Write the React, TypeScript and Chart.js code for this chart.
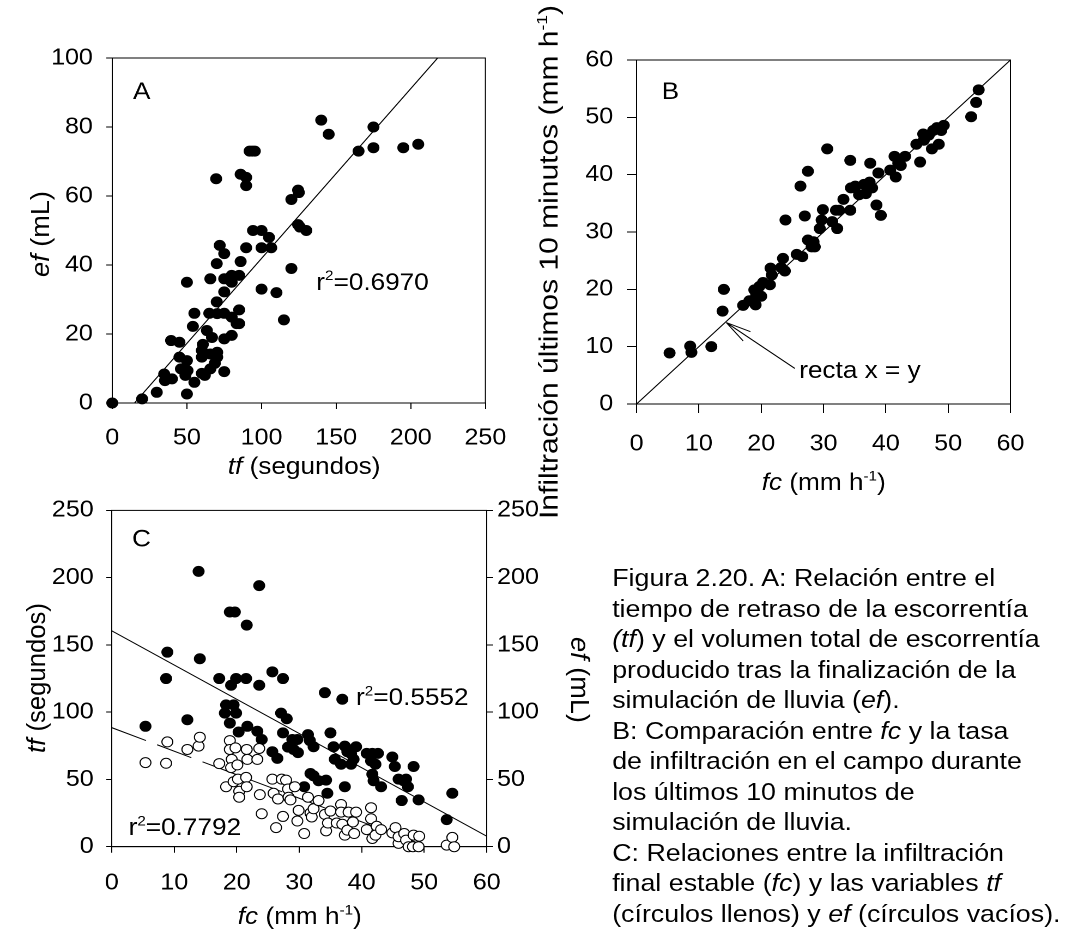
import { useEffect, useRef } from 'react';
import { Chart, registerables } from 'chart.js';

Chart.register(...registerables);

const FONT = '"Liberation Sans", Arial, Helvetica, sans-serif';
const TICK_SIZE = 23;
const TEXT_SIZE = 24;
// The whole figure is drawn slightly wider than tall.
const SX = 1.09;
const INNER_W = 1066 / SX;

// ---------- Panel A: runoff delay (tf) vs. total runoff volume (ef) ----------
const A_TF = [0, 20, 29.8, 34.8, 35.3, 40, 39.4, 45, 45, 46, 49, 50, 50.4, 50, 50, 54, 55, 55, 60, 60.7,
  60, 60, 62, 63.4, 65, 65.7, 66.8, 65.7, 65.7, 68.7, 69.6, 70, 70, 70.3, 70.3, 70.3, 72, 75, 75, 75,
  75, 75, 75, 78.3, 80, 80, 80, 80, 83.3, 85, 85, 86, 86, 85, 89.7, 89.7, 89.7, 92, 93.8, 95.5,
  94.3, 100, 100, 100, 105, 106.5, 110, 115, 120, 120, 124.5, 125, 124.5, 125.7, 130, 140, 145, 165, 175, 175,
  195, 205];
const A_EF = [0, 1.2, 3.1, 8.4, 6.5, 7, 18.1, 17.6, 13.3, 9.9, 8, 12.3, 9.4, 2.6, 35, 22.2, 26, 6, 15.2, 17,
  13.3, 8.6, 8, 21, 26, 9.9, 19, 36, 14.2, 11.5, 65, 40.4, 29.3, 25.9, 14.7, 13.3, 45.7, 43.3, 36, 32.2,
  26, 18.6, 9.1, 36, 37, 35, 19.6, 24.9, 23, 27, 37, 41, 66.3, 23, 65.4, 45, 63, 73, 73, 73,
  50, 50, 45, 33, 48, 45, 32, 24.1, 59, 39, 61.7, 61, 51.7, 51, 50, 82, 77.9, 73, 80, 74,
  74, 75];
const A_FIT = { slope: 0.4924, intercept: -7.34 };
const A_R2 = '0.6970';
const A_X_RANGE = [0, 250, 50];
const A_Y_RANGE = [0, 100, 20];

// ---------- Panel B: fc vs. field infiltration over the last 10 minutes ----------
const B_FC = [5.3, 8.6, 8.8, 12.0, 13.8, 14.0, 17.1, 18.1, 19.1, 18.9, 19.2, 19.7, 20.0, 20.3, 21.4, 21.5, 21.7, 23.2, 23.5, 23.8,
  23.9, 25.7, 26.3, 26.6, 27.0, 27.5, 27.5, 28.1, 28.4, 28.6, 29.4, 29.7, 29.9, 30.6, 31.4, 32.0, 32.2, 32.5, 33.2, 34.3,
  34.3, 34.4, 35.1, 35.7, 36.5, 36.8, 37.4, 37.5, 37.8, 38.5, 38.8, 39.2, 40.7, 41.4, 41.6, 42.0, 42.4, 43.1, 44.9, 45.5,
  46.0, 46.1, 46.9, 47.4, 47.6, 48.2, 48.5, 48.9, 49.3, 53.7, 54.5, 54.9];
const B_INF = [8.9, 10.1, 9.0, 10.0, 16.2, 20.0, 17.2, 18.0, 17.3, 19.9, 19.0, 20.5, 18.8, 21.2, 20.8, 23.7, 22.5, 23.8, 25.4, 23.2,
  32.1, 26.1, 38.0, 25.7, 32.8, 40.6, 28.6, 27.4, 28.3, 27.4, 30.6, 32.1, 33.9, 44.5, 31.8, 33.8, 30.6, 33.8, 35.7, 33.8,
  42.5, 37.7, 38.0, 36.5, 38.3, 36.7, 38.7, 42.0, 37.7, 34.7, 40.3, 32.9, 40.8, 43.2, 39.6, 42.0, 41.6, 43.2, 45.3, 42.2,
  47.1, 46.0, 46.9, 44.5, 47.7, 48.2, 45.3, 47.7, 48.6, 50.1, 52.6, 54.8];
const B_RANGE = [0, 60, 10];
const B_ARROW_TAIL = { x: 25.4, y: 6.2 };
const B_ARROW_TIP = { x: 14.4, y: 14.2 };
const B_NOTE_AT = { x: 26.1, y: 4.5 };

// ---------- Panel C: fc vs. tf (filled) and ef (open) ----------
const C_TF_FC = [5.4, 8.7, 8.9, 12.1, 13.9, 14.1, 17.2, 18.9, 19.7, 19.1, 19.9, 21.5, 21.6, 23.6, 23.6, 18.3, 19.5, 18.1, 19.9, 18.9,
  20.3, 21.7, 23.3, 24.0, 25.7, 27.4, 25.7, 26.5, 27.1, 28.0, 27.4, 28.2, 28.9, 29.7, 29.1, 29.8, 30.8, 31.4, 31.7, 32.3,
  31.8, 32.3, 33.1, 34.3, 34.1, 34.5, 35.0, 35.5, 35.7, 36.7, 36.9, 37.3, 37.3, 37.7, 38.3, 38.3, 38.7, 39.1, 40.8, 41.7,
  42.6, 41.5, 42.2, 41.7, 41.9, 43.1, 44.9, 45.3, 45.9, 46.4, 46.7, 47.1, 47.4, 48.3, 49.1, 53.6, 54.5];
const C_TF = [89.5, 125, 144.6, 94.4, 204.7, 139.7, 125, 174.5, 174.5, 120, 125, 125, 164.7, 194.1, 120, 105.4, 105.4, 99.3, 99.3, 91.9,
  85.3, 89.5, 85.8, 79.7, 130, 125, 70.6, 65.7, 99.3, 95.1, 84.6, 74.0, 79.7, 79.7, 72.3, 69.9, 44.6, 83.3, 78.9, 74.3,
  54.4, 52.7, 49.0, 49.5, 114.5, 39.7, 84.6, 74.3, 65.0, 61.3, 109.6, 74.8, 44.6, 70.6, 61.3, 69.1, 65.0, 74.3, 69.4, 69.4,
  69.4, 63.7, 61.3, 53.9, 49.0, 44.6, 66.7, 59.6, 50.2, 34.3, 49.0, 50.2, 44.6, 59.6, 34.8, 20.1, 39.7];
const C_EF_FC = [5.4, 8.7, 8.9, 12.1, 13.9, 14.1, 17.2, 18.3, 18.9, 18.9, 19.2, 19.1, 19.8, 19.5, 20.1, 20.2, 20.4, 20.4, 21.5, 21.6,
  21.7, 21.6, 23.3, 23.6, 23.7, 24.0, 25.7, 25.9, 26.3, 26.6, 27.2, 27.4, 27.9, 28.2, 28.3, 28.6, 29.3, 29.7, 29.9, 30.8,
  31.4, 31.8, 32.0, 32.3, 33.1, 34.1, 34.3, 34.6, 35.0, 36.0, 36.7, 36.7, 36.9, 37.3, 37.7, 37.9, 38.6, 38.8, 39.1, 40.8,
  41.5, 41.5, 41.7, 42.4, 42.2, 43.1, 44.9, 45.4, 45.9, 45.9, 46.8, 47.1, 47.5, 48.2, 48.3, 49.1, 49.2, 53.6, 54.5, 54.8];
const C_EF = [62.5, 62.0, 77.9, 72.3, 74.8, 81.4, 61.8, 44.6, 78.9, 72.3, 64.9, 58.8, 73.5, 48.3, 60.8, 50.2, 41.2, 36.8, 51.5, 72.3,
  64.9, 44.6, 64.9, 73.0, 38.7, 24.5, 50.2, 39.7, 14.2, 35.5, 50.2, 22.5, 49.5, 42.9, 36.8, 34.8, 44.6, 19.1, 27.0, 9.8,
  36.8, 25.0, 22.1, 28.2, 34.3, 24.0, 11.8, 17.6, 26.5, 17.6, 31.4, 25.7, 16.7, 8.6, 12.3, 25.7, 18.4, 9.8, 25.7, 12.7,
  29.0, 20.8, 6.1, 15.2, 8.6, 12.7, 10.3, 14.2, 2.5, 7.4, 9.8, 4.9, 0, 0, 8.6, 0, 7.8, 1.2, 6.9, 0];
const C_TF_FIT = { slope: -2.545, intercept: 160.5, xEnd: 60 };
const C_EF_FIT = { slope: -1.75, intercept: 88.5, xEnd: 50 };
const C_TF_R2 = '0.5552';
const C_EF_R2 = '0.7792';
const C_X_RANGE = [0, 60, 10];
const C_Y_RANGE = [0, 250, 50];

type Run = { t: string; i?: boolean; sup?: boolean };

const CAPTION: Run[][] = [
  [{ t: 'Figura 2.20. A: Relación entre el' }],
  [{ t: 'tiempo de retraso de la escorrentía' }],
  [{ t: '(tf', i: true }, { t: ') y el volumen total de escorrentía' }],
  [{ t: 'producido tras la finalización de la' }],
  [{ t: 'simulación de lluvia (' }, { t: 'ef', i: true }, { t: ').' }],
  [{ t: 'B: Comparación entre ' }, { t: 'fc', i: true }, { t: ' y la tasa' }],
  [{ t: 'de infiltración en el campo durante' }],
  [{ t: 'los últimos 10 minutos de' }],
  [{ t: 'simulación de lluvia.' }],
  [{ t: 'C: Relaciones entre la infiltración' }],
  [{ t: 'final estable (' }, { t: 'fc', i: true }, { t: ') y las variables ' }, { t: 'tf', i: true }],
  [{ t: '(círculos llenos) y ' }, { t: 'ef', i: true }, { t: ' (círculos vacíos).' }],
];

// ---------- text helpers ----------
function runFont(r: Run, size: number) {
  const s = r.sup ? Math.round(size * 0.6) : size;
  return `${r.i ? 'italic ' : ''}${s}px ${FONT}`;
}
function runsWidth(ctx: CanvasRenderingContext2D, runs: Run[], size: number) {
  let w = 0;
  for (const r of runs) {
    ctx.font = runFont(r, size);
    w += ctx.measureText(r.t).width;
  }
  return w;
}
function drawRuns(ctx: CanvasRenderingContext2D, runs: Run[], x: number, y: number, size: number, align = 'left') {
  ctx.save();
  ctx.fillStyle = '#000';
  ctx.textAlign = 'left';
  ctx.textBaseline = 'alphabetic';
  let cx = align === 'center' ? x - runsWidth(ctx, runs, size) / 2 : x;
  for (const r of runs) {
    ctx.font = runFont(r, size);
    ctx.fillText(r.t, cx, r.sup ? y - size * 0.4 : y);
    cx += ctx.measureText(r.t).width;
  }
  ctx.restore();
}
function drawRotated(ctx: CanvasRenderingContext2D, runs: Run[], cx: number, cy: number, size: number, angle: number, stretch: number) {
  ctx.save();
  ctx.translate(cx, cy);
  ctx.rotate(angle);
  ctx.scale(stretch, 1);
  drawRuns(ctx, runs, 0, size * 0.36, size, 'center');
  ctx.restore();
}
function drawArrow(ctx: CanvasRenderingContext2D, x1: number, y1: number, x2: number, y2: number, head: number, spread: number) {
  ctx.save();
  ctx.strokeStyle = '#000';
  ctx.lineWidth = 1;
  ctx.beginPath();
  ctx.moveTo(x1, y1);
  ctx.lineTo(x2, y2);
  const ang = Math.atan2(y1 - y2, x1 - x2);
  for (const s of [-spread, spread]) {
    ctx.moveTo(x2, y2);
    ctx.lineTo(x2 + head * Math.cos(ang + s), y2 + head * Math.sin(ang + s));
  }
  ctx.stroke();
  ctx.restore();
}
const r2Runs = (v: string): Run[] => [{ t: 'r' }, { t: '2', sup: true }, { t: '=' + v }];
const FC_TITLE: Run[] = [{ t: 'fc', i: true }, { t: ' (mm h' }, { t: '-1', sup: true }, { t: ')' }];
const TF_TITLE: Run[] = [{ t: 'tf', i: true }, { t: ' (segundos)' }];
const EF_TITLE: Run[] = [{ t: 'ef', i: true }, { t: ' (mL)' }];
const INF_TITLE: Run[] = [{ t: 'Infiltración últimos 10 minutos (mm h' }, { t: '-1', sup: true }, { t: ')' }];

// ---------- chart helpers ----------
type Box = { left: number; top: number; width: number; height: number };
type Area = { l: number; t: number; r: number; b: number };
const AXIS_W = 100;
const AXIS_H = 60;

function padFor(box: Box, area: Area, rightAxis: boolean) {
  return {
    left: area.l - AXIS_W,
    top: area.t,
    right: box.width - area.r - (rightAxis ? AXIS_W : 0),
    bottom: box.height - area.b - AXIS_H,
  };
}

function linAxis(position: string, range: number[], tl: number, pad: number) {
  const horizontal = position === 'bottom' || position === 'top';
  return {
    type: 'linear',
    position,
    min: range[0],
    max: range[1],
    ticks: {
      stepSize: range[2],
      padding: pad,
      color: '#000',
      font: { family: FONT, size: TICK_SIZE },
      maxRotation: 0,
      autoSkip: false,
    },
    grid: { display: true, drawOnChartArea: false, drawTicks: true, tickLength: tl, color: '#000', lineWidth: 1 },
    border: { display: true, color: '#000', width: 1 },
    afterFit: (s: any) => {
      if (horizontal) s.height = AXIS_H;
      else s.width = AXIS_W;
    },
  };
}

function baseOptions(padding: any) {
  return {
    responsive: true,
    maintainAspectRatio: false,
    animation: false,
    devicePixelRatio: 2,
    events: [],
    layout: { padding },
    plugins: { legend: { display: false }, tooltip: { enabled: false } },
  };
}

const framePlugin = {
  id: 'frame',
  beforeDatasetsDraw(chart: any) {
    const { left, top, right, bottom } = chart.chartArea;
    const ctx = chart.ctx;
    ctx.save();
    ctx.strokeStyle = '#000';
    ctx.lineWidth = 1;
    ctx.strokeRect(left, top, right - left, bottom - top);
    ctx.restore();
  },
};

const DOT_R = 5;
const filledDots = {
  pointRadius: DOT_R,
  pointBackgroundColor: '#000',
  pointBorderColor: '#000',
  backgroundColor: '#000',
  borderColor: '#000',
  pointBorderWidth: 1,
  clip: false,
};
const openDots = {
  pointRadius: DOT_R,
  pointBackgroundColor: '#fff',
  pointBorderColor: '#000',
  backgroundColor: '#fff',
  borderColor: '#000',
  pointBorderWidth: 1,
  clip: false,
};
const fitLine = { showLine: true, pointRadius: 0, borderColor: '#000', borderWidth: 1, fill: false };

const pairs = (xs: number[], ys: number[]) => xs.map((x, i) => ({ x, y: ys[i] }));

// ---------- panel layouts ----------
const BOX_A: Box = { left: 0, top: 0, width: 480, height: 500 };
const AREA_A: Area = { l: 103, t: 58, r: 449, b: 403 };
const BOX_B: Box = { left: 480, top: 0, width: 498, height: 540 };
const AREA_B: Area = { l: 104, t: 60, r: 447, b: 404 };
const BOX_C: Box = { left: 0, top: 485, width: 560, height: 448 };
const AREA_C: Area = { l: 102.5, t: 24.2, r: 446.5, b: 361.7 };

function configA(): any {
  const x0 = (A_Y_RANGE[0] - A_FIT.intercept) / A_FIT.slope;
  const x1 = (A_Y_RANGE[1] - A_FIT.intercept) / A_FIT.slope;
  return {
    type: 'scatter',
    data: {
      datasets: [
        { data: pairs(A_TF, A_EF), ...filledDots, order: 1 },
        { data: [{ x: x0, y: A_Y_RANGE[0] }, { x: x1, y: A_Y_RANGE[1] }], ...fitLine, order: 2 },
      ],
    },
    options: {
      ...baseOptions(padFor(BOX_A, AREA_A, false)),
      scales: {
        x: linAxis('bottom', A_X_RANGE, 6, 15.5),
        y: linAxis('left', A_Y_RANGE, 5.5, 12.3),
      },
    },
    plugins: [
      framePlugin,
      {
        id: 'labelsA',
        afterDraw(chart: any) {
          const ctx = chart.ctx;
          const { left, top } = chart.chartArea;
          const sx = chart.scales.x;
          const sy = chart.scales.y;
          drawRuns(ctx, [{ t: 'A' }], left + 19, top + 41, TEXT_SIZE);
          drawRuns(ctx, r2Runs(A_R2), sx.getPixelForValue(136.7), sy.getPixelForValue(32.8), TEXT_SIZE);
          drawRuns(ctx, TF_TITLE, 279, 474, TEXT_SIZE, 'center');
          drawRotated(ctx, EF_TITLE, 36.3, 234, TEXT_SIZE, -Math.PI / 2, 1.13);
        },
      },
    ],
  };
}

function configB(): any {
  return {
    type: 'scatter',
    data: {
      datasets: [
        { data: pairs(B_FC, B_INF), ...filledDots, order: 1 },
        { data: [{ x: B_RANGE[0], y: B_RANGE[0] }, { x: B_RANGE[1], y: B_RANGE[1] }], ...fitLine, order: 2 },
      ],
    },
    options: {
      ...baseOptions(padFor(BOX_B, AREA_B, false)),
      scales: {
        x: linAxis('bottom', B_RANGE, 9, 17.6),
        y: linAxis('left', B_RANGE, 9, 12.4),
      },
    },
    plugins: [
      framePlugin,
      {
        id: 'labelsB',
        afterDraw(chart: any) {
          const ctx = chart.ctx;
          const { left, top } = chart.chartArea;
          const sx = chart.scales.x;
          const sy = chart.scales.y;
          drawRuns(ctx, [{ t: 'B' }], left + 23, top + 39, TEXT_SIZE);
          drawRuns(ctx, [{ t: 'recta x = y' }], sx.getPixelForValue(B_NOTE_AT.x), sy.getPixelForValue(B_NOTE_AT.y), TEXT_SIZE);
          drawArrow(
            ctx,
            sx.getPixelForValue(B_ARROW_TAIL.x), sy.getPixelForValue(B_ARROW_TAIL.y),
            sx.getPixelForValue(B_ARROW_TIP.x), sy.getPixelForValue(B_ARROW_TIP.y),
            24, 0.24,
          );
          drawRuns(ctx, FC_TITLE, 275.7, 490, TEXT_SIZE, 'center');
          drawRotated(ctx, INF_TITLE, 22.8, 262, TEXT_SIZE, -Math.PI / 2, 1.25);
        },
      },
    ],
  };
}

function configC(): any {
  const tfEnd = C_TF_FIT.intercept + C_TF_FIT.slope * C_TF_FIT.xEnd;
  const efEnd = C_EF_FIT.intercept + C_EF_FIT.slope * C_EF_FIT.xEnd;
  return {
    type: 'scatter',
    data: {
      datasets: [
        { data: pairs(C_EF_FC, C_EF), yAxisID: 'y2', ...openDots, order: 0 },
        { data: pairs(C_TF_FC, C_TF), yAxisID: 'y', ...filledDots, order: 1 },
        {
          data: [{ x: 0, y: C_TF_FIT.intercept }, { x: C_TF_FIT.xEnd, y: tfEnd }],
          yAxisID: 'y', ...fitLine, order: 2,
        },
        {
          data: [{ x: 0, y: C_EF_FIT.intercept }, { x: C_EF_FIT.xEnd, y: efEnd }],
          yAxisID: 'y2', ...fitLine, borderDash: [34, 11], order: 2,
        },
      ],
    },
    options: {
      ...baseOptions(padFor(BOX_C, AREA_C, true)),
      scales: {
        x: linAxis('bottom', C_X_RANGE, 6, 16.6),
        y: linAxis('left', C_Y_RANGE, 5, 11.6),
        y2: linAxis('right', C_Y_RANGE, 6, 3.5),
      },
    },
    plugins: [
      framePlugin,
      {
        id: 'labelsC',
        afterDraw(chart: any) {
          const ctx = chart.ctx;
          const { left, top } = chart.chartArea;
          const sx = chart.scales.x;
          const sy = chart.scales.y;
          drawRuns(ctx, [{ t: 'C' }], left + 18.6, top + 36, TEXT_SIZE);
          drawRuns(ctx, r2Runs(C_TF_R2), sx.getPixelForValue(39.1), sy.getPixelForValue(105.4), TEXT_SIZE);
          drawRuns(ctx, r2Runs(C_EF_R2), sx.getPixelForValue(2.7), sy.getPixelForValue(8.6), TEXT_SIZE);
          drawRuns(ctx, FC_TITLE, 275, 439, TEXT_SIZE, 'center');
          drawRotated(ctx, TF_TITLE, 33, 193, TEXT_SIZE, -Math.PI / 2, 1.07);
          drawRotated(ctx, EF_TITLE, 532.6, 195, TEXT_SIZE, Math.PI / 2, 1.13);
        },
      },
    ],
  };
}

function boxStyle(b: Box): any {
  return { position: 'absolute', left: b.left, top: b.top, width: b.width, height: b.height };
}

export default function App() {
  const aRef = useRef<HTMLCanvasElement>(null);
  const bRef = useRef<HTMLCanvasElement>(null);
  const cRef = useRef<HTMLCanvasElement>(null);

  useEffect(() => {
    const charts = [
      new Chart(aRef.current as HTMLCanvasElement, configA()),
      new Chart(bRef.current as HTMLCanvasElement, configB()),
      new Chart(cRef.current as HTMLCanvasElement, configC()),
    ];
    return () => charts.forEach((c) => c.destroy());
  }, []);

  return (
    <div style={{ position: 'fixed', left: 0, top: 0, width: 1066, height: 933, background: '#fff', overflow: 'hidden' }}>
      <div
        style={{
          position: 'absolute', left: 0, top: 0, width: INNER_W, height: 933,
          transform: `scaleX(${SX})`, transformOrigin: '0 0',
        }}
      >
        <div style={boxStyle(BOX_A)}><canvas ref={aRef} /></div>
        <div style={boxStyle(BOX_B)}><canvas ref={bRef} /></div>
        <div style={boxStyle(BOX_C)}><canvas ref={cRef} /></div>
        <div
          style={{
            position: 'absolute', left: 561.6, top: 563, fontFamily: FONT, fontSize: 24.6,
            lineHeight: '30.5px', color: '#000', whiteSpace: 'nowrap',
          }}
        >
          {CAPTION.map((line, i) => (
            <div key={i}>
              {line.map((r, j) => (r.i ? <i key={j}>{r.t}</i> : <span key={j}>{r.t}</span>))}
            </div>
          ))}
        </div>
      </div>
    </div>
  );
}
